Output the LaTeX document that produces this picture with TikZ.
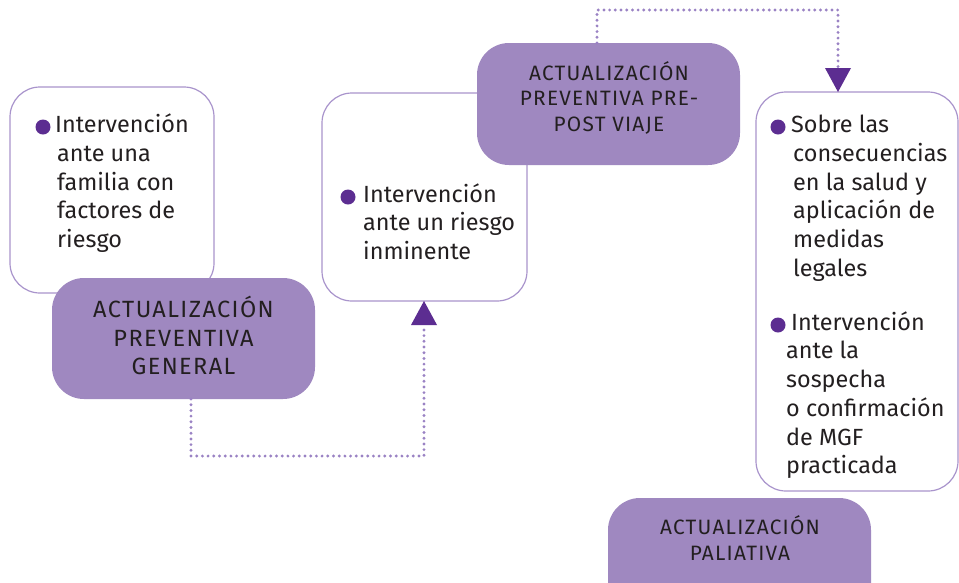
\documentclass[tikz,border=0pt]{standalone}
\usepackage{fontspec}
\setmainfont{Fira Sans}
\newfontfamily\lblfont[LetterSpace=6]{Fira Sans}
\definecolor{boxpurple}{HTML}{9F88C0}
\definecolor{edgepurple}{HTML}{A994CC}
\definecolor{dotpurple}{HTML}{9A82C4}
\definecolor{bulletpurple}{HTML}{5C2D91}
\definecolor{txt}{HTML}{231F20}
\begin{document}
\begin{tikzpicture}[x=1pt,y=-1pt,
  wbox/.style={draw=edgepurple, line width=1.2pt, fill=white, rounded corners=30pt, inner sep=0pt, outer sep=0pt},
  pbox/.style={fill=boxpurple, rounded corners=32pt, inner sep=0pt, outer sep=0pt},
  body/.style={anchor=base west, inner sep=0pt, text=txt, font=\fontsize{23.4}{28}\selectfont},
  lblbig/.style={anchor=base, inner sep=0pt, text=txt, font=\lblfont\fontsize{23.5}{25}\selectfont},
  lblsmall/.style={anchor=base, inner sep=0pt, text=txt, font=\lblfont\fontsize{20.8}{25}\selectfont},
  dots/.style={draw=dotpurple, line width=3.2pt, line cap=round, dash pattern=on 0pt off 5.7pt},
  bul/.style={circle, fill=bulletpurple, inner sep=0pt, minimum size=15pt},
  tip/.style={fill=bulletpurple}]
\clip (0,0) rectangle (959,582);
\fill[white] (0,0) rectangle (959,582);
% boxes
\node[wbox, minimum width=204pt, minimum height=206pt] (box1) at (112,190) {};
\node[pbox, minimum width=263pt, minimum height=121pt] (gen) at (183.5,338.5) {};
\node[wbox, minimum width=205pt, minimum height=208pt] (box2) at (424.5,197) {};
\node[pbox, minimum width=263pt, minimum height=122pt] (pre) at (608.5,104) {};
\node[wbox, minimum width=202pt, minimum height=399pt] (box3) at (857,291.5) {};
\node[pbox, minimum width=263pt, minimum height=121pt] (pal) at (739.5,558.5) {};
% connectors
\coordinate (a1) at (597,10);
\coordinate (a2) at (838,10);
\coordinate (a3) at (838,68);
\draw[dots] (pre.north -| a1) -- (a1) -- (a2) -- (a3);
\fill[tip] (a3) ++(-13,0) -- ++(26,0) -- (box3.north -| a3) ++(0,-4) -- cycle;
\coordinate (c1) at (191,456);
\coordinate (c2) at (424,456);
\coordinate (c3) at (424,325);
\draw[dots] (gen.south -| c1) -- (c1) -- (c2) -- (c3);
\fill[tip] (c3) ++(-13,0) -- ++(26,0) -- (box2.south -| c3) ++(0,2) -- cycle;
% bullets
\node[bul] (u1) at (43,127) {};
\node[bul] (u2) at (348,197) {};
\node[bul] (u3) at (778,127) {};
\node[bul] (u4) at (778,325) {};
% body text
\foreach \t/\x/\y [count=\i] in {Intervención/55/132, ante una/57/161, familia con/57/190, factores de/57/218, riesgo/57/247,
  Intervención/363/202, ante un riesgo/363/230, inminente/363/259,
  Sobre las/791/132, consecuencias/793/161, en la salud y/793/190, aplicación de/793/218, medidas/793/247, legales/793/276,
  Intervención/791/330, ante la/786/358, sospecha/786/387, o confirmación/786/416, de MGF/786/445, practicada/786/473}
  \node[body] (t\i) at (\x,\y) {\t};
% labels
\node[lblbig] (g1) at (183.5,317) {ACTUALIZACIÓN};
\node[lblbig] (g2) at (183.5,346) {PREVENTIVA};
\node[lblbig] (g3) at (183.5,374) {GENERAL};
\node[lblsmall] (p1) at (609,80) {ACTUALIZACIÓN};
\node[lblsmall] (p2) at (609,105) {PREVENTIVA PRE-};
\node[lblsmall] (p3) at (609,131) {POST VIAJE};
\node[lblsmall] (q1) at (740,534) {ACTUALIZACIÓN};
\node[lblsmall] (q2) at (740,560) {PALIATIVA};
\end{tikzpicture}
\end{document}
